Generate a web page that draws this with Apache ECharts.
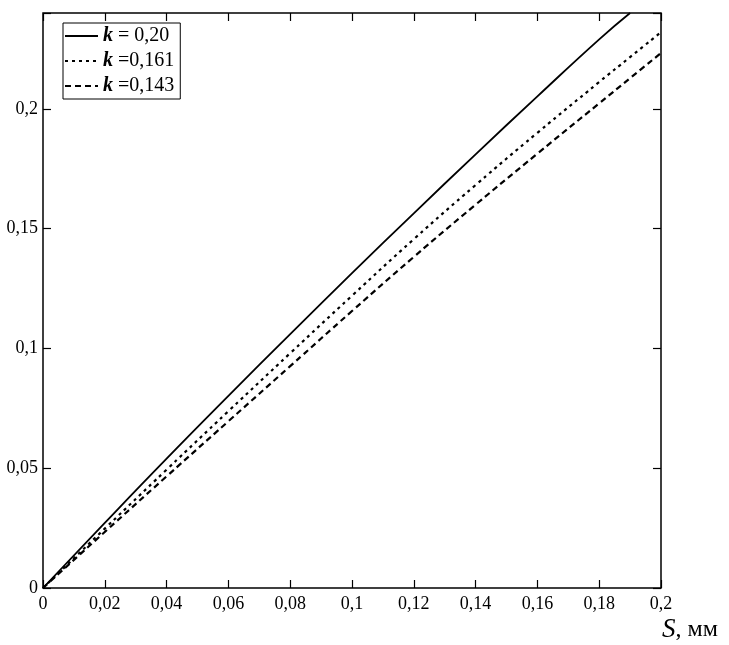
<!DOCTYPE html>
<html>
<head>
<meta charset="utf-8">
<script src="https://cdn.jsdelivr.net/npm/echarts@6/dist/echarts.min.js"></script>
<style>html,body{margin:0;padding:0;background:#fff}#c{width:729px;height:645px}</style>
</head>
<body>
<div id="c"></div>
<script>
var xValues = [0, 0.02, 0.04, 0.06, 0.08, 0.10, 0.12, 0.14, 0.16, 0.18, 0.19, 0.20];
var solidK020 = [0, 0.0272, 0.0540, 0.0802, 0.1060, 0.1314, 0.1564, 0.1810, 0.2052, 0.2290, 0.2400, null];
var dottedK0161 = [0, 0.0248, 0.0494, 0.0738, 0.0980, 0.1220, 0.1456, 0.1682, 0.1900, 0.2112, 0.2216, 0.2320];
var dashedK0143 = [0, 0.0234, 0.0466, 0.0696, 0.0926, 0.1156, 0.1382, 0.1600, 0.1813, 0.2023, 0.2128, 0.2233];
var seriesNames = ['k = 0,20', 'k =0,161', 'k =0,143'];
var xTickLabels = ['0', '0,02', '0,04', '0,06', '0,08', '0,1', '0,12', '0,14', '0,16', '0,18', '0,2'];
var yTickLabels = ['0', '0,05', '0,1', '0,15', '0,2'];

function pairs(ys) {
  var out = [];
  for (var i = 0; i < xValues.length; i++) {
    if (ys[i] !== null) out.push([xValues[i], ys[i]]);
  }
  return out;
}
function xFmt(v) {
  var i = Math.round(v / 0.02);
  return Math.abs(v - i * 0.02) < 1e-9 && xTickLabels[i] !== undefined ? xTickLabels[i] : '';
}
function yFmt(v) {
  var i = Math.round(v / 0.05);
  return Math.abs(v - i * 0.05) < 1e-9 && yTickLabels[i] !== undefined ? yTickLabels[i] : '';
}
var serif = '"Liberation Serif", "DejaVu Serif", serif';
var chart = echarts.init(document.getElementById('c'));
var tickStyle = { show: true, inside: true, length: 8, lineStyle: { color: '#000', width: 1.2 } };
var noLine = { show: false, onZero: false };
chart.setOption({
  animation: false,
  backgroundColor: '#fff',
  grid: { left: 43, right: 68, top: 13, bottom: 57, show: true, borderColor: '#000', borderWidth: 1.5, backgroundColor: 'transparent' },
  legend: {
    left: 63, top: 23, orient: 'vertical',
    data: seriesNames,
    borderColor: '#000', borderWidth: 1, padding: [3, 6, 3, 1],
    itemWidth: 33, itemHeight: 14, itemGap: 5,
    itemStyle: { opacity: 0 },
    formatter: function (n) { return '{k|k}' + n.slice(1); },
    textStyle: { fontFamily: serif, fontSize: 20, color: '#000',
      rich: { k: { fontFamily: serif, fontSize: 20, fontStyle: 'italic', fontWeight: 'bold', color: '#000' } } }
  },
  xAxis: [
    { type: 'value', min: 0, max: 0.2, interval: 0.02, position: 'bottom',
      axisLine: noLine, splitLine: { show: false }, axisTick: tickStyle,
      axisLabel: { formatter: xFmt, fontFamily: serif, fontSize: 18, color: '#000', margin: 7 } },
    { type: 'value', min: 0, max: 0.2, interval: 0.02, position: 'top',
      axisLine: noLine, splitLine: { show: false }, axisTick: tickStyle,
      axisLabel: { show: false } }
  ],
  yAxis: [
    { type: 'value', min: 0, max: 0.24, interval: 0.05, position: 'left',
      axisLine: noLine, splitLine: { show: false }, axisTick: tickStyle,
      axisLabel: { formatter: yFmt, fontFamily: serif, fontSize: 18, color: '#000', margin: 5 } },
    { type: 'value', min: 0, max: 0.24, interval: 0.05, position: 'right',
      axisLine: noLine, splitLine: { show: false }, axisTick: tickStyle,
      axisLabel: { show: false } }
  ],
  series: [
    { name: seriesNames[0], type: 'line', data: pairs(solidK020), symbol: 'none', smooth: true,
      lineStyle: { color: '#000', width: 1.8, type: 'solid' }, itemStyle: { color: '#000' } },
    { name: seriesNames[1], type: 'line', data: pairs(dottedK0161), symbol: 'none', smooth: true,
      lineStyle: { color: '#000', width: 2.2, type: [3, 4] }, itemStyle: { color: '#000' } },
    { name: seriesNames[2], type: 'line', data: pairs(dashedK0143), symbol: 'none', smooth: true,
      lineStyle: { color: '#000', width: 2.2, type: [6, 4] }, itemStyle: { color: '#000' } }
  ],
  graphic: [
    { type: 'text', left: 662, top: 616,
      style: { text: '{s|S}{r|, мм}', rich: {
        s: { fontFamily: serif, fontSize: 27, fontStyle: 'italic', fill: '#000' },
        r: { fontFamily: serif, fontSize: 24, fill: '#000' } } } }
  ]
});
</script>
</body>
</html>
